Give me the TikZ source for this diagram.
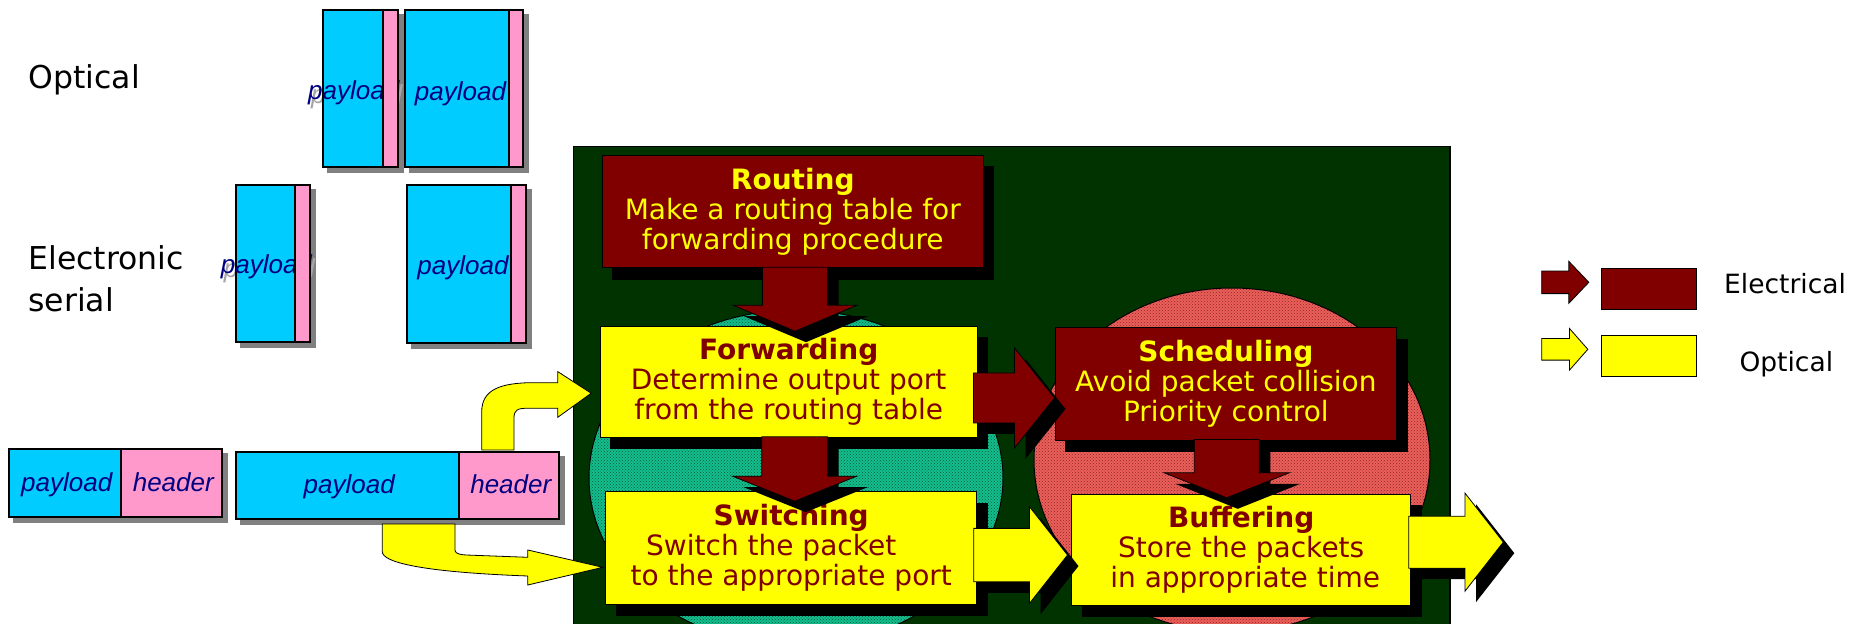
\documentclass[tikz,border=0pt]{standalone}
\usepackage{fontspec}
\setmainfont{DejaVu Sans}
\newfontfamily\pktfont{Liberation Sans}
\usetikzlibrary{calc,patterns}
\pgfdeclarelayer{bg}
\pgfdeclarelayer{shade}
\pgfsetlayers{bg,shade,main}

\definecolor{bggreen}{RGB}{0,51,0}
\definecolor{dred}{RGB}{128,0,0}
\definecolor{optyellow}{RGB}{255,255,0}
\definecolor{pcyan}{RGB}{0,204,255}
\definecolor{ppink}{RGB}{255,153,204}
\definecolor{pnavy}{RGB}{0,0,128}
\definecolor{tealfill}{RGB}{20,190,140}
\definecolor{tealdot}{RGB}{0,90,60}
\definecolor{redfill}{RGB}{235,95,90}
\definecolor{reddot}{RGB}{140,40,40}

% block arrow pointing down: style, start, tip, half shaft, half head, head length, dx, dy
\newcommand\vblockshape[8]{\path[#1] let \p1=(#2), \p2=(#3) in
 (\x1-#4+#7,\y1-#8) -- (\x1-#4+#7,\y2+#6-#8) -- (\x1-#5+#7,\y2+#6-#8) -- (\x1+#7,\y2-#8)
 -- (\x1+#5+#7,\y2+#6-#8) -- (\x1+#4+#7,\y2+#6-#8) -- (\x1+#4+#7,\y1-#8) -- cycle;}
% block arrow pointing right: style, start, tip, half shaft, half head, head length, dx, dy
\newcommand\hblockshape[8]{\path[#1] let \p1=(#2), \p2=(#3) in
 (\x1+#7,\y1+#4-#8) -- (\x2-#6+#7,\y1+#4-#8) -- (\x2-#6+#7,\y1+#5-#8) -- (\x2+#7,\y1-#8)
 -- (\x2-#6+#7,\y1-#5-#8) -- (\x2-#6+#7,\y1-#4-#8) -- (\x1+#7,\y1-#4-#8) -- cycle;}
% the same with a black drop shadow
\newcommand\vblock[6]{\vblockshape{fill=black}{#2}{#3}{#4}{#5}{#6}{11pt}{11pt}%
 \vblockshape{#1}{#2}{#3}{#4}{#5}{#6}{0pt}{0pt}}
\newcommand\hblock[6]{\hblockshape{fill=black}{#2}{#3}{#4}{#5}{#6}{11pt}{11pt}%
 \hblockshape{#1}{#2}{#3}{#4}{#5}{#6}{0pt}{0pt}}

\begin{document}
\begin{tikzpicture}[x=1pt,y=-1pt,
  boxfont/.style={font=\fontsize{28pt}{30pt}\selectfont},
  elbox/.style={draw=black, line width=1pt, fill=dred, text=optyellow, align=center, inner sep=0pt, boxfont},
  optbox/.style={draw=black, line width=1pt, fill=optyellow, text=dred, align=center, inner sep=0pt, boxfont},
  elarrow/.style={fill=dred, draw=black, line width=0.8pt},
  optarrow/.style={fill=optyellow, draw=black, line width=0.8pt},
  pkt/.style={draw=black, line width=2pt, inner sep=0pt},
  pkttxt/.style={inner sep=0pt, anchor=base, text=pnavy, font=\pktfont\itshape\fontsize{26pt}{30pt}\selectfont},
  pktshadow/.style={pkttxt, text=gray!70},
  label/.style={inner sep=0pt, anchor=base west, font=\fontsize{31.5pt}{40pt}\selectfont},
  legtxt/.style={inner sep=0pt, anchor=base west, font=\fontsize{26.5pt}{32pt}\selectfont},
  legbox/.style={draw=black, line width=1pt, inner sep=0pt, minimum width=95pt, minimum height=41pt}]
\useasboundingbox (0,0) rectangle (1864,624);

% dark panel with the two functional areas
\begin{pgfonlayer}{bg}
  \draw[fill=bggreen, line width=1.5pt] (573.3,146.7) rectangle (1450,640);
  \fill[tealfill] (796,478) ellipse [x radius=207pt, y radius=168pt];
  \fill[pattern=crosshatch dots, pattern color=tealdot] (796,478) ellipse [x radius=207pt, y radius=168pt];
  \draw[line width=1pt] (796,478) ellipse [x radius=207pt, y radius=168pt];
  \fill[redfill] (1232,460) ellipse [x radius=198pt, y radius=172pt];
  \fill[pattern=crosshatch dots, pattern color=reddot] (1232,460) ellipse [x radius=198pt, y radius=172pt];
  \draw[line width=1pt] (1232,460) ellipse [x radius=198pt, y radius=172pt];
\end{pgfonlayer}

% functional blocks
\node[elbox, minimum width=381pt, minimum height=112.7pt] (routing) at (792.8,211.35)
  {\textbf{Routing}\\Make a routing table for\\forwarding procedure};
\node[optbox, minimum width=377.3pt, minimum height=111.3pt] (forwarding) at (788.65,381.65)
  {\textbf{Forwarding}\\Determine output port\\from the routing table};
\node[optbox, minimum width=371pt, minimum height=112.3pt] (switching) at (791.2,547.85)
  {\textbf{Switching}\\Switch the packet\rule{40pt}{0pt}\\to the appropriate port};
\node[elbox, minimum width=341.7pt, minimum height=112.3pt] (scheduling) at (1225.85,383.85)
  {\textbf{Scheduling}\\Avoid packet collision\\Priority control};
\node[optbox, minimum width=339pt, minimum height=110.7pt] (buffering) at (1241.2,549.65)
  {\textbf{Buffering}\\Store the packets\\\rule{8pt}{0pt}in appropriate time};

\begin{pgfonlayer}{shade}
  \foreach \b in {routing,forwarding,switching,scheduling,buffering}
    \fill[black] ($(\b.north west)+(10.5pt,-11.5pt)$) rectangle ($(\b.south east)+(10.5pt,-11.5pt)$);
\end{pgfonlayer}

\coordinate (out) at (1503.3,541.7);

% flows between the blocks
\vblock{elarrow}{$(routing.south)+(2.2pt,1pt)$}{$(forwarding.north)+(0pt,-5.7pt)$}{32.5pt}{62pt}{26pt}
\vblock{elarrow}{$(forwarding.south)+(6pt,1pt)$}{$(switching.north)+(0pt,-10pt)$}{33pt}{62pt}{25pt}
\vblock{elarrow}{$(scheduling.south)+(0.9pt,1pt)$}{$(buffering.north)+(0pt,-4pt)$}{32.5pt}{62.5pt}{25pt}
\hblock{elarrow}{$(forwarding.east)+(-4.3pt,-16.3pt)$}{scheduling.west}{25pt}{50pt}{40pt}
\hblock{optarrow}{$(switching.east)+(-3.4pt,-7.2pt)$}{$(buffering.west)+(-3.7pt,0pt)$}{26.7pt}{48.3pt}{38pt}
\hblock{optarrow}{$(buffering.east)+(-2.4pt,7.5pt)$}{out}{26pt}{49pt}{38.3pt}

% incoming packet: header and payload take separate paths
\coordinate (pBs) at (347.5,519);
\coordinate (hBn) at (509,451.7);
\path[optarrow] let \p1=(hBn), \p2=(forwarding.west) in
  (\x1-27.3pt,\y1+1.7pt) -- (\x1-27.3pt,\y2-30.3pt)
  .. controls (\x1-27.3pt,\y2-8.3pt) and (\x2-100pt,\y2-1pt) .. (\x2-65pt,\y2-1pt)
  -- (\x2-41.7pt,\y2-1pt) -- (\x2-41.7pt,\y2+10pt) -- (\x2-8.3pt,\y2-11.6pt)
  -- (\x2-41.7pt,\y2-35.6pt) -- (\x2-41.7pt,\y2-26.6pt) -- (\x2-72pt,\y2-26.6pt)
  .. controls (\x2-82pt,\y2-26.6pt) and (\x1+5pt,\y2-28.3pt) .. (\x1+5pt,\y2-36.3pt)
  -- (\x1+5pt,\y1+1.7pt) -- cycle;
\path[optarrow] let \p1=(pBs), \p2=(switching.west) in
  (\x1+34.8pt,\y1-5pt) -- (\x1+34.8pt,\y2-3.85pt)
  .. controls (\x1+34.8pt,\y2-14.15pt) and (\x2-185.7pt,\y2-24.15pt) .. (\x2-77.4pt,\y2-28.15pt)
  -- (\x2-77.4pt,\y2-37.15pt) -- (\x2-2.4pt,\y2-19.45pt) -- (\x2-77.4pt,\y2-2.15pt) -- (\x2-77.4pt,\y2-9.45pt)
  -- (\x2-139pt,\y2-7.15pt)
  .. controls (\x1+107.5pt,\y2-6.5pt) and (\x1+107.5pt,\y2-4pt) .. (\x1+107.5pt,\y2-1pt)
  -- (\x1+107.5pt,\y1-5pt) -- cycle;

% packet B
\node[pkt, fill=pcyan, minimum width=223pt, minimum height=67.3pt] (pB) at (347.5,485.35) {};
\node[pkttxt] (pBt) at (349.2,493.3) {payload};
\node[pkt, fill=ppink, minimum width=100pt, minimum height=67.3pt] (hB) at (509,485.35) {};
\node[pkttxt] (hBt) at (510.8,493.3) {header};

% packet A
\node[pkt, fill=pcyan, minimum width=111.7pt, minimum height=67.4pt] (pA) at (65.15,483) {};
\node[pkttxt] (pAt) at (66.7,491.7) {payload};
\node[pkt, fill=ppink, minimum width=100.7pt, minimum height=67.4pt] (hA) at (171.35,483) {};
\node[pkttxt] (hAt) at (173.3,491.7) {header};

% optical packets
\node[pkt, fill=pcyan, minimum width=59.4pt, minimum height=156.4pt] (o1p) at (353,88.5) {};
\node[pkttxt, anchor=base west] (o1t) at (308,99.3) {payload};
\node[pkt, fill=ppink, minimum width=15.6pt, minimum height=156.4pt] (o1h) at (390.5,88.5) {};
\node[pkt, fill=pcyan, minimum width=104.3pt, minimum height=156.7pt] (o2p) at (457.15,88.65) {};
\node[pkttxt] (o2t) at (460.5,100) {payload};
\node[pkt, fill=ppink, minimum width=14pt, minimum height=156.7pt] (o2h) at (516.3,88.65) {};

% electronic serial packets
\node[pkt, fill=pcyan, minimum width=59pt, minimum height=156.7pt] (e1p) at (265.5,263.35) {};
\node[pkttxt, anchor=base west] (e1t) at (220.7,273.3) {payload};
\node[pkt, fill=ppink, minimum width=15pt, minimum height=156.7pt] (e1h) at (302.5,263.35) {};
\node[pkt, fill=pcyan, minimum width=103.7pt, minimum height=157.7pt] (e2p) at (459.15,263.85) {};
\node[pkttxt] (e2t) at (463,274) {payload};
\node[pkt, fill=ppink, minimum width=14.7pt, minimum height=157.7pt] (e2h) at (518.35,263.85) {};

\begin{pgfonlayer}{shade}
  \foreach \p/\h in {pA/hA,pB/hB,o1p/o1h,o2p/o2h,e1p/e1h,e2p/e2h}
    \fill[gray] ($(\p.north west)+(5pt,-5pt)$) rectangle ($(\h.south east)+(5pt,-5pt)$);
  \node[pktshadow, anchor=base west] at (311,103.3) {payload};
  \node[pktshadow, anchor=base west] at (223.7,277.3) {payload};
\end{pgfonlayer}

% row labels
\node[label] (lopt) at (28.3,88.3) {Optical};
\node[label] (lel1) at (28.3,269.3) {Electronic};
\node[label] (lel2) at (28.3,311.7) {serial};

% legend
\node[legbox, fill=dred] (legE) at (1649.2,288.8) {};
\node[legbox, fill=optyellow, minimum height=41.7pt] (legO) at (1649.2,355.85) {};
\coordinate (legEa) at (1541.7,282.3);
\coordinate (legOa) at (1541.7,349.3);
\hblockshape{elarrow}{legEa}{$(legE.west)+(-12.4pt,0pt)$}{11.3pt}{21pt}{20pt}{0pt}{0pt}
\hblockshape{optarrow}{legOa}{$(legO.west)+(-13.4pt,0pt)$}{10.8pt}{20.8pt}{18.3pt}{0pt}{0pt}
\node[legtxt] (legEt) at (1724,293.3) {Electrical};
\node[legtxt] (legOt) at (1739.3,371.7) {Optical};
\end{tikzpicture}
\end{document}
